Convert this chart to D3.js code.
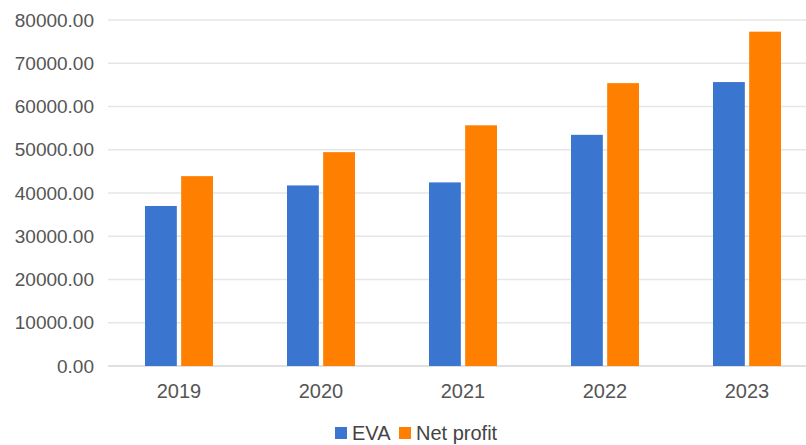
<!DOCTYPE html>
<html lang="en">
<head>
<meta charset="UTF-8" />
<title>EVA vs Net profit</title>
<script src="https://cdnjs.cloudflare.com/ajax/libs/d3/7.8.5/d3.min.js"></script>
<style>
  * { margin: 0; padding: 0; box-sizing: border-box; }
  body { background: #fff; overflow: hidden; }
  svg { display: block; font-family: 'Liberation Sans', Arial, sans-serif; }
</style>
</head>
<body>
<svg id="chart" width="806" height="445"></svg>
<script>
  // data
  const years = ["2019", "2020", "2021", "2022", "2023"];
  const eva = [37000, 41750, 42450, 53450, 65650];
  const netProfit = [43900, 49450, 55650, 65400, 77300];
  const seriesNames = ["EVA", "Net profit"];
  const colors = ["#3a75d0", "#ff7f00"];
  const yTicks = [0, 10000, 20000, 30000, 40000, 50000, 60000, 70000, 80000];

  const svg = d3.select("#chart");
  const plotL = 108, plotR = 818, plotT = 20, plotB = 366;

  const x = d3.scaleBand().domain(years).range([plotL, plotR]);
  const xs = d3.scaleBand().domain(seriesNames).range([0, 68]).paddingInner(0.12);
  const y = d3.scaleLinear().domain([0, 80000]).range([plotB, plotT]);

  // gridlines
  svg.append("g")
    .selectAll("line")
    .data(yTicks)
    .join("line")
    .attr("x1", plotL).attr("x2", 806)
    .attr("y1", d => y(d)).attr("y2", d => y(d))
    .attr("stroke", d => d === 0 ? "#d6d6d6" : "#e6e6e6")
    .attr("stroke-width", 1.5);

  // y labels
  svg.append("g")
    .selectAll("text")
    .data(yTicks)
    .join("text")
    .attr("x", 94)
    .attr("y", d => y(d))
    .attr("dy", "0.35em")
    .attr("text-anchor", "end")
    .attr("font-size", 19)
    .attr("fill", "#555")
    .text(d => d3.format(".2f")(d));

  // bars
  const rows = years.map((yr, i) => ({ year: yr, vals: [eva[i], netProfit[i]] }));
  const groups = svg.append("g")
    .selectAll("g")
    .data(rows)
    .join("g")
    .attr("transform", d => `translate(${x(d.year) + x.bandwidth() / 2 - 34},0)`);

  groups.selectAll("rect")
    .data(d => d.vals.map((v, j) => ({ name: seriesNames[j], v, j })))
    .join("rect")
    .attr("x", d => xs(d.name))
    .attr("width", xs.bandwidth())
    .attr("y", d => y(d.v))
    .attr("height", d => y(0) - y(d.v))
    .attr("fill", d => colors[d.j]);

  // x labels
  svg.append("g")
    .selectAll("text")
    .data(years)
    .join("text")
    .attr("x", d => x(d) + x.bandwidth() / 2)
    .attr("y", 398)
    .attr("text-anchor", "middle")
    .attr("font-size", 20)
    .attr("fill", "#555")
    .text(d => d);

  // legend
  const legend = svg.append("g").attr("transform", "translate(335,440)");
  const legX = [0, 64];
  seriesNames.forEach((name, j) => {
    legend.append("rect")
      .attr("x", legX[j]).attr("y", -13)
      .attr("width", 12).attr("height", 12)
      .attr("fill", colors[j]);
    legend.append("text")
      .attr("x", legX[j] + 17).attr("y", 0)
      .attr("font-size", 20)
      .attr("fill", "#444")
      .text(name);
  });
</script>
</body>
</html>
